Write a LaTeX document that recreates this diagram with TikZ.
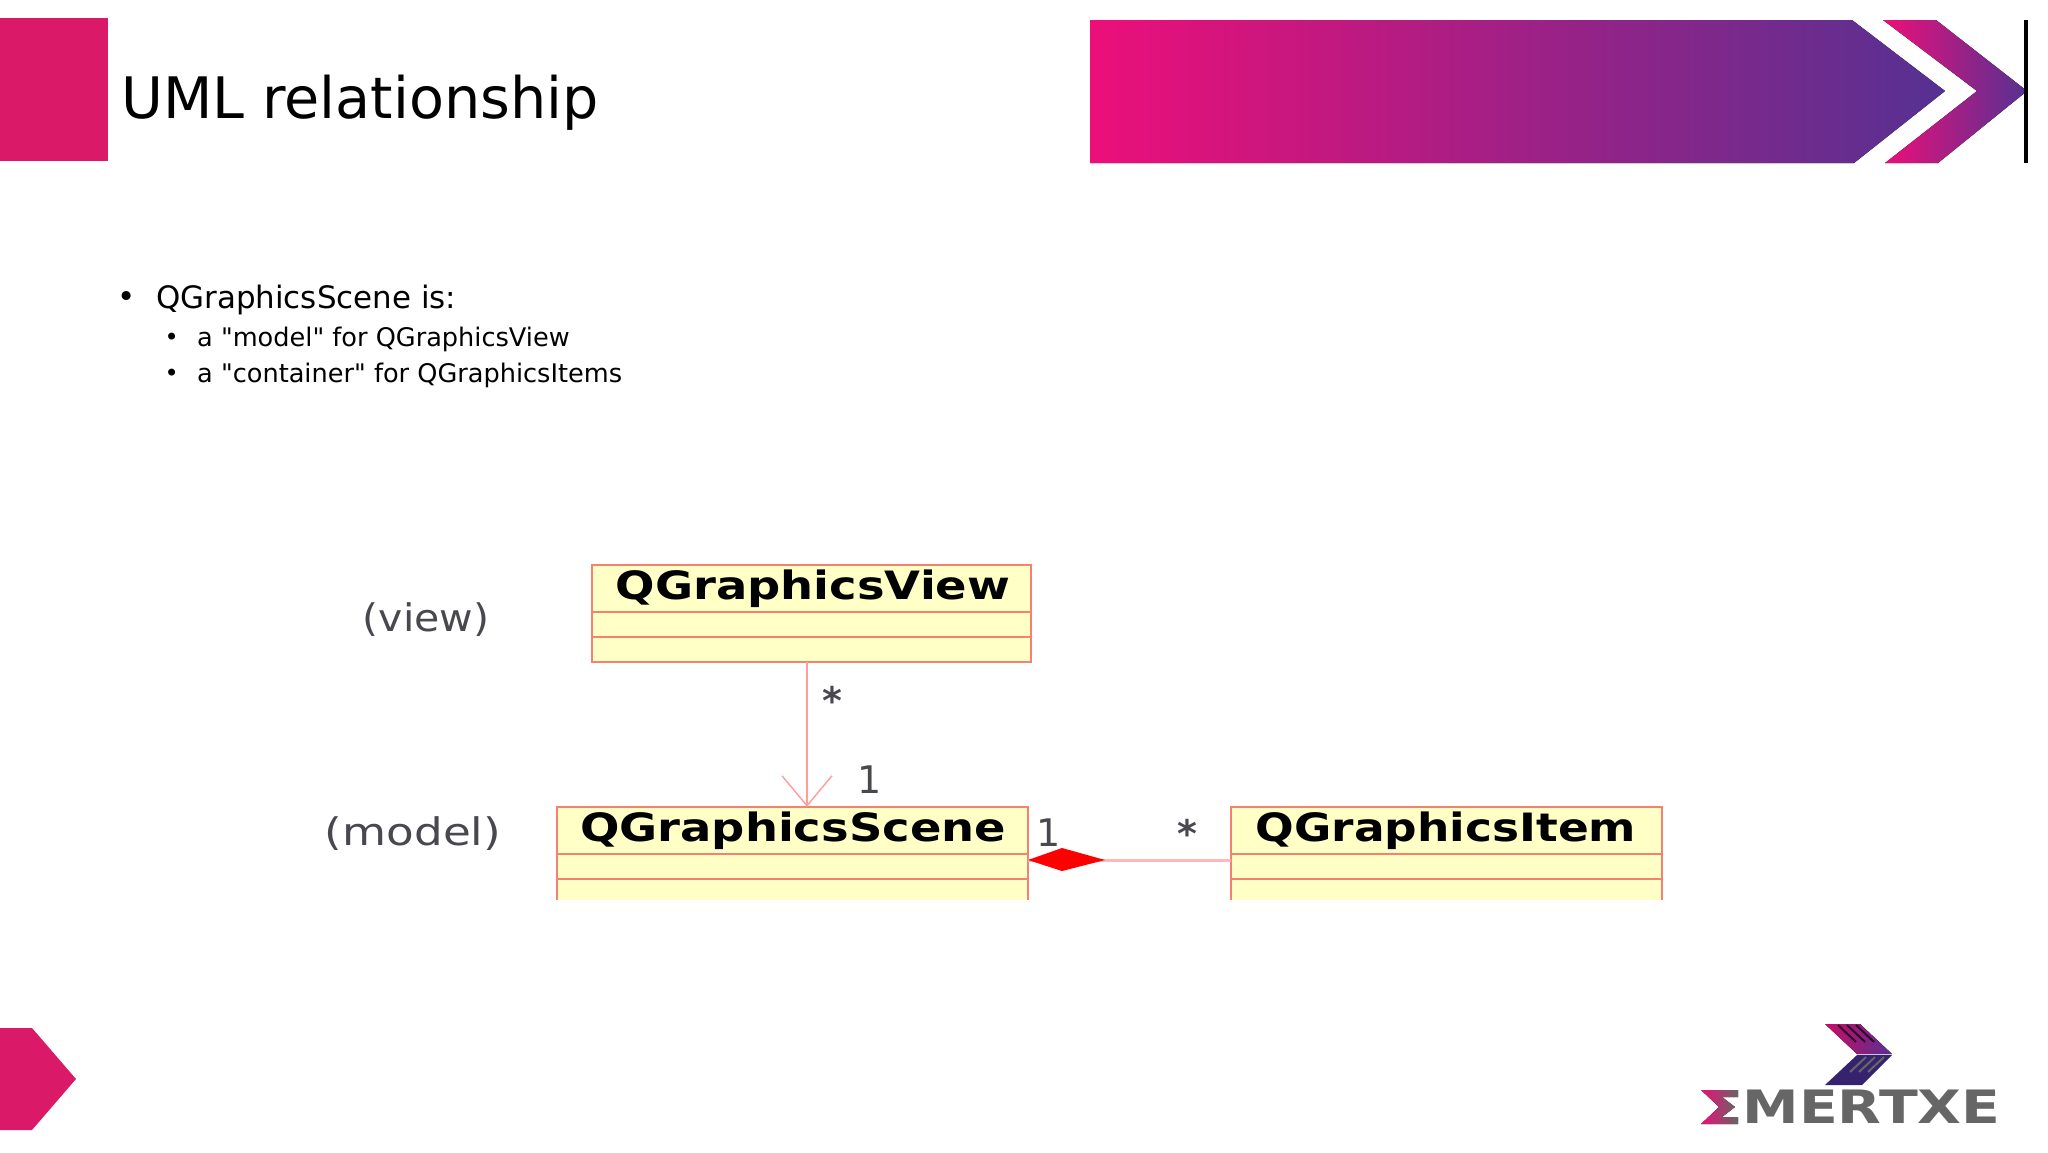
\documentclass[tikz,border=0pt]{standalone}
\usepackage{fontspec}
\setmainfont[Ligatures=TeXOff]{DejaVu Sans}
\usetikzlibrary{arrows.meta,positioning}
\definecolor{slidepink}{HTML}{DA1A69}
\definecolor{gradpink}{HTML}{EC0F79}
\definecolor{gradmid}{HTML}{AC1F85}
\definecolor{gradblue}{HTML}{553192}
\definecolor{classfill}{HTML}{FFFFC6}
\definecolor{classedge}{HTML}{F5826F}
\definecolor{assocline}{HTML}{FF9C9C}
\definecolor{assoclight}{HTML}{FFB8B8}
\definecolor{notegray}{HTML}{48484E}
\definecolor{logogray}{HTML}{666666}
\definecolor{logoblue}{HTML}{35236F}

\begin{document}
\begin{tikzpicture}[x=1pt, y=-1pt,
    classbox/.style={fill=classfill, inner sep=0pt, minimum width=#1},
    classtitle/.style={font=\bfseries\fontsize{39}{42}\selectfont, xscale=1.19, transform shape, inner sep=0pt},
    note/.style={font=\fontsize{38}{40}\selectfont, text=notegray, transform shape, inner sep=0pt},
    mult/.style={font=\fontsize{38}{40}\selectfont, text=notegray, inner sep=0pt},
    star/.style={font=\bfseries\fontsize{38}{40}\selectfont, text=notegray, inner sep=0pt},
    edgeline/.style={draw=classedge, line width=1.8pt},
    bulletmain/.style={font=\fontsize{30.9}{32}\selectfont, inner sep=0pt, anchor=west},
    bulletsub/.style={font=\fontsize{25.6}{28}\selectfont, inner sep=0pt, anchor=west}]
  \useasboundingbox (0,0) rectangle (2048,1152);

  % header
  \fill[slidepink] (0,18) rectangle (108,161);
  \node[font=\fontsize{57.2}{60}\selectfont, inner sep=0pt, anchor=west] (title) at (121,103) {UML relationship};
  \fill[left color=gradpink, middle color=gradmid, right color=gradblue] (1090,20) -- (1852,20) -- (1945,91) -- (1854,163) -- (1090,163) -- cycle;
  \fill[left color=gradpink, right color=gradblue] (1883,20) -- (1936,20) -- (2027,91) -- (1938,163) -- (1885,163) -- (1977,91) -- cycle;
  \fill[black] (2024,20) rectangle (2027.5,163);

  % bullets
  \node[bulletmain] (b1) at (156,300) {QGraphicsScene is:};
  \node[bulletsub] (b2) at (197,339) {a "model" for QGraphicsView};
  \node[bulletsub] (b3) at (197,375) {a "container" for QGraphicsItems};
  \node[bulletmain, left=20pt of b1.west, anchor=east] (d1) {•};
  \node[font=\fontsize{24}{26}\selectfont, inner sep=0pt, left=18pt of b2.west, anchor=east] (d2) {•};
  \node[font=\fontsize{24}{26}\selectfont, inner sep=0pt, left=18pt of b3.west, anchor=east] (d3) {•};

  % class boxes
  \node[classbox=438pt, minimum height=97pt] (view) at (811.5,613.5) {};
  \node[classbox=471pt, minimum height=93pt] (scene) at (792.5,853.5) {};
  \node[classbox=430pt, minimum height=93pt] (item) at (1446.5,853.5) {};
  \draw[edgeline] (view.south west) rectangle (view.north east);
  \draw[edgeline] (scene.south west) -- (scene.north west) -- (scene.north east) -- (scene.south east);
  \draw[edgeline] (item.south west) -- (item.north west) -- (item.north east) -- (item.south east);
  \foreach \cname/\yone/\ytwo in {view/612/637, scene/854/879, item/854/879} {
    \draw[edgeline, line width=1.3pt] (\cname.west |- 0,\yone) -- (\cname.east |- 0,\yone);
    \draw[edgeline] (\cname.west |- 0,\ytwo) -- (\cname.east |- 0,\ytwo);
  }

  \node[classtitle] (viewtitle) at (813,589) {QGraphicsView};
  \node[classtitle] (scenetitle) at (793,831) {QGraphicsScene};
  \node[classtitle, xscale=0.98] (itemtitle) at (1446,831) {QGraphicsItem};

  \node[note, xscale=1.08] (viewnote) at (426,620) {(view)};
  \node[note, xscale=1.19] (modelnote) at (413,834) {(model)};

  % connectors
  \draw[assocline, line width=1.4pt, -{Straight Barb[length=30pt, width=50pt]}] ([xshift=-4.5pt]view.south) -- ([xshift=14.5pt]scene.north);
  \draw[assoclight, line width=3pt] (scene.east |- 0,860) -- (item.west |- 0,860);
  \fill[red] (1028,860) -- (1062,848) -- (1105,860) -- (1062,871) -- cycle;

  \node[star] (m1) at (832,700) {*};
  \node[mult] (m2) at (870,780) {1};
  \node[mult] (m3) at (1049,833) {1};
  \node[star] (m4) at (1187,833) {*};

  % footer
  \fill[slidepink] (0,1028) -- (32,1028) -- (76,1079) -- (32,1130) -- (0,1130) -- cycle;
  \fill[left color=gradpink!85!black, right color=gradblue] (1825,1024) -- (1860,1024) -- (1892,1054) -- (1857,1054) -- cycle;
  \fill[logoblue] (1825,1085) -- (1857,1055) -- (1892,1055) -- (1862,1085) -- cycle;
  \foreach \dx in {0,9,18} {
    \draw[black!70!gradmid, line width=2pt] (1838+\dx,1025) -- (1856+\dx,1042);
    \draw[logogray, line width=2pt] (1850+\dx,1072) -- (1866+\dx,1057);
  }
  \fill[left color=gradpink, middle color=gradmid, right color=logogray] (1701,1090) -- (1738,1090) -- (1738,1097) -- (1722,1097) -- (1735,1107) -- (1722,1117) -- (1738,1117) -- (1738,1124) -- (1701,1124) -- (1719,1107) -- cycle;
  \node[font=\bfseries\fontsize{46}{48}\selectfont, text=logogray, inner sep=0pt, anchor=center, xscale=1.236, transform shape] (logo) at (1871.5,1107) {MERTXE};
\end{tikzpicture}
\end{document}
